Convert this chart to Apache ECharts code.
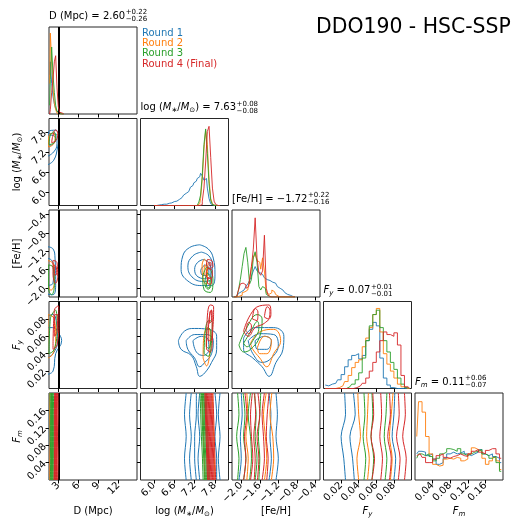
<!DOCTYPE html>
<html>
<head>
<meta charset="utf-8">
<script src="https://cdn.jsdelivr.net/npm/echarts@6/dist/echarts.min.js"></script>
<style>
  html, body { margin: 0; padding: 0; background: #fff; }
  #chart { width: 512px; height: 522px; }
</style>
</head>
<body>
<div id="chart"></div>
<script>
// rounds and colours
const ROUNDS = ['Round 1', 'Round 2', 'Round 3', 'Round 4 (Final)'];
const COLORS = ['#1f77b4', '#ff7f0e', '#2ca02c', '#d62728'];

// parameter axes: D, log M, [Fe/H], F_y, F_m
const RANGES = [[1.6, 14.8], [5.6, 8.2], [-2.2, -0.3], [0, 0.1], [0, 0.2]];
const TICKS = [[3, 6, 9, 12], [6.0, 6.6, 7.2, 7.8], [-2.0, -1.6, -1.2, -0.8, -0.4], [0.02, 0.04, 0.06, 0.08], [0.04, 0.08, 0.12, 0.16]];
const DECIMALS = [0, 1, 1, 2, 2];
const MEDIANS = ['2.60', '7.63', '\u22121.72', '0.07', '0.11'];
const ERR_UP = ['+0.22', '+0.08', '+0.22', '+0.01', '+0.06'];
const ERR_DN = ['\u22120.26', '\u22120.08', '\u22120.16', '\u22120.01', '\u22120.07'];
const D_TRUE = 3;

// 1D histograms (bin centres, then one row per round)
const D_BINS = [1.7, 1.9, 2.1, 2.3, 2.5, 2.7, 2.9, 3.1, 3.3, 3.5, 3.7, 3.9];
const D_HIST = [
  [0.45, 0.6, 0.35, 0.2, 0.12, 0.06, 0.03, 0.01, 0.01, 0, 0, 0],
  [0.35, 0.93, 0.6, 0.3, 0.12, 0.05, 0.01, 0, 0, 0, 0, 0],
  [0.1, 0.4, 0.77, 0.45, 0.25, 0.1, 0.03, 0.01, 0, 0, 0, 0],
  [0, 0.05, 0.25, 0.4, 0.6, 0.67, 0.3, 0.08, 0.02, 0.01, 0, 0]
];
const LOGM_BINS = [6.00, 6.05, 6.10, 6.15, 6.20, 6.25, 6.30, 6.35, 6.40, 6.45, 6.50, 6.55, 6.60, 6.65, 6.70, 6.75, 6.80, 6.85, 6.90, 6.95,
  7.00, 7.05, 7.10, 7.15, 7.20, 7.25, 7.30, 7.35, 7.40, 7.45, 7.50, 7.55, 7.60, 7.65, 7.70, 7.75, 7.80, 7.85, 7.90, 7.95];
const LOGM_HIST = [
  [0, 0, 0.005, 0.005, 0.01, 0.01, 0.015, 0.015, 0.02, 0.025, 0.03, 0.035, 0.045, 0.05, 0.06, 0.07, 0.09, 0.1, 0.12, 0.14,
   0.16, 0.18, 0.21, 0.23, 0.26, 0.28, 0.31, 0.33, 0.37, 0.34, 0.29, 0.31, 0.2, 0.08, 0.02, 0.005, 0, 0, 0, 0],
  [0, 0, 0, 0, 0, 0, 0, 0, 0, 0, 0, 0, 0, 0, 0, 0, 0, 0, 0, 0,
   0, 0, 0, 0, 0, 0, 0.005, 0.02, 0.08, 0.3, 0.65, 0.86, 0.7, 0.3, 0.08, 0.02, 0, 0, 0, 0],
  [0, 0, 0, 0, 0, 0, 0, 0, 0, 0, 0, 0, 0, 0, 0, 0, 0, 0, 0, 0,
   0, 0, 0, 0, 0, 0, 0.01, 0.04, 0.12, 0.35, 0.7, 0.88, 0.6, 0.25, 0.06, 0.01, 0, 0, 0, 0],
  [0, 0, 0, 0, 0, 0, 0, 0, 0, 0, 0, 0, 0, 0, 0, 0, 0, 0, 0, 0,
   0, 0, 0, 0, 0, 0, 0, 0, 0.01, 0.05, 0.2, 0.5, 0.85, 0.91, 0.55, 0.2, 0.05, 0.01, 0, 0]
];
const FEH_BINS = [-2.16, -2.12, -2.08, -2.04, -2.00, -1.96, -1.92, -1.88, -1.84, -1.80, -1.76, -1.72, -1.68, -1.64, -1.60, -1.56, -1.52,
  -1.48, -1.44, -1.40, -1.36, -1.32, -1.28, -1.24, -1.20, -1.16, -1.12, -1.08, -1.04, -1.00, -0.96, -0.92, -0.88, -0.84];
const FEH_HIST = [
  [0, 0.01, 0.02, 0.04, 0.06, 0.08, 0.1, 0.12, 0.15, 0.19, 0.24, 0.3, 0.35, 0.3, 0.28, 0.26, 0.24,
   0.22, 0.2, 0.19, 0.17, 0.17, 0.16, 0.14, 0.12, 0.1, 0.08, 0.06, 0.05, 0.03, 0.02, 0.01, 0.005, 0],
  [0, 0, 0, 0.01, 0.02, 0.05, 0.06, 0.08, 0.1, 0.2, 0.35, 0.45, 0.5, 0.42, 0.4, 0.32, 0.45,
   0.3, 0.05, 0.03, 0.05, 0.08, 0.06, 0.03, 0.01, 0, 0, 0, 0, 0, 0, 0, 0, 0],
  [0, 0, 0.02, 0.08, 0.2, 0.35, 0.5, 0.57, 0.4, 0.15, 0.2, 0.45, 0.52, 0.4, 0.12, 0.08, 0.12,
   0.1, 0.03, 0.01, 0, 0, 0, 0, 0, 0, 0, 0, 0, 0, 0, 0, 0, 0],
  [0, 0, 0.02, 0.08, 0.15, 0.16, 0.14, 0.1, 0.12, 0.2, 0.35, 0.55, 0.91, 0.45, 0.28, 0.25, 0.3,
   0.71, 0.1, 0.02, 0, 0, 0, 0, 0, 0, 0, 0, 0, 0, 0, 0, 0, 0]
];
const FY_BINS = [0.002, 0.006, 0.010, 0.014, 0.018, 0.022, 0.026, 0.030, 0.034, 0.038, 0.042, 0.046, 0.050,
  0.054, 0.058, 0.062, 0.066, 0.070, 0.074, 0.078, 0.082, 0.086, 0.090, 0.094, 0.098];
const FY_HIST = [
  [0.04, 0.03, 0.05, 0.06, 0.1, 0.16, 0.25, 0.33, 0.38, 0.4, 0.34, 0.38, 0.55, 0.68, 0.76, 0.72, 0.35, 0.12, 0.04, 0.01, 0, 0, 0, 0, 0],
  [0, 0, 0, 0, 0.01, 0.03, 0.08, 0.15, 0.24, 0.3, 0.33, 0.48, 0.58, 0.7, 0.85, 0.92, 0.65, 0.4, 0.28, 0.2, 0.12, 0.05, 0.02, 0, 0],
  [0, 0, 0, 0, 0, 0, 0, 0.02, 0.05, 0.1, 0.18, 0.35, 0.55, 0.72, 0.85, 0.9, 0.7, 0.55, 0.42, 0.3, 0.22, 0.12, 0.05, 0.01, 0],
  [0, 0, 0, 0, 0, 0, 0, 0, 0, 0.01, 0.03, 0.06, 0.12, 0.2, 0.3, 0.42, 0.55, 0.65, 0.62, 0.6, 0.64, 0.5, 0.15, 0.02, 0]
];
const FM_BINS = [0.004, 0.012, 0.020, 0.028, 0.036, 0.044, 0.052, 0.060, 0.068, 0.076, 0.084, 0.092, 0.100,
  0.108, 0.116, 0.124, 0.132, 0.140, 0.148, 0.156, 0.164, 0.172, 0.180, 0.188, 0.196];
const FM_HIST = [
  [0.3, 0.33, 0.32, 0.28, 0.3, 0.24, 0.18, 0.2, 0.25, 0.3, 0.32, 0.3, 0.31, 0.33, 0.3, 0.28, 0.3, 0.32, 0.35, 0.3, 0.28, 0.3, 0.27, 0.25, 0.2],
  [0.5, 0.9, 0.78, 0.5, 0.3, 0.18, 0.16, 0.17, 0.24, 0.25, 0.24, 0.26, 0.25, 0.22, 0.24, 0.3, 0.37, 0.35, 0.33, 0.25, 0.18, 0.22, 0.26, 0.22, 0.12],
  [0.25, 0.3, 0.28, 0.3, 0.27, 0.22, 0.25, 0.3, 0.32, 0.36, 0.35, 0.33, 0.36, 0.3, 0.28, 0.3, 0.32, 0.33, 0.35, 0.3, 0.28, 0.25, 0.27, 0.2, 0.1],
  [0.28, 0.3, 0.26, 0.2, 0.2, 0.24, 0.28, 0.3, 0.26, 0.25, 0.27, 0.28, 0.3, 0.28, 0.27, 0.3, 0.33, 0.35, 0.32, 0.3, 0.34, 0.36, 0.36, 0.3, 0.25]
];

// 2D contours: [round index, closed outline of [x, y] points]
const CONT_D_LOGM = [
  [0, [[1.2, 6.8], [2.3, 6.95], [2.9, 7.35], [3.1, 7.65], [2.6, 7.85], [1.5, 7.8]]],
  [0, [[1.2, 7.05], [2.3, 7.2], [2.8, 7.45], [2.8, 7.7], [1.8, 7.75], [1.2, 7.6]]],
  [0, [[1.3, 7.35], [2.3, 7.45], [2.6, 7.6], [2.0, 7.7], [1.3, 7.65]]],
  [1, [[1.5, 7.35], [2.2, 7.42], [2.5, 7.6], [2.3, 7.75], [1.6, 7.7]]],
  [2, [[1.6, 7.42], [2.4, 7.48], [2.6, 7.65], [2.3, 7.8], [1.8, 7.7]]],
  [3, [[2.0, 7.48], [2.7, 7.55], [2.9, 7.75], [2.6, 7.86], [2.2, 7.7]]]
];
const CONT_D_FEH = [
  [0, [[1.2, -1.1], [2.2, -1.15], [2.5, -1.35], [2.6, -1.9], [2.2, -2.15], [1.2, -2.1]]],
  [0, [[1.2, -1.35], [2.0, -1.4], [2.3, -1.6], [2.2, -1.9], [1.2, -1.95]]],
  [1, [[1.4, -1.4], [2.3, -1.5], [2.4, -1.9], [1.9, -2.05], [1.4, -1.9]]],
  [2, [[1.5, -1.5], [2.2, -1.55], [2.4, -1.95], [2.0, -2.15], [1.5, -2.0]]],
  [3, [[2.2, -1.4], [2.8, -1.45], [2.9, -1.75], [2.6, -1.9], [2.2, -1.7]]],
  [3, [[2.4, -1.5], [2.7, -1.55], [2.75, -1.7], [2.45, -1.72]]]
];
const CONT_D_FY = [
  [0, [[1.2, 0.016], [2.2, 0.02], [2.6, 0.04], [3.5, 0.055], [3.0, 0.065], [2.2, 0.085], [1.2, 0.08]]],
  [0, [[1.2, 0.035], [2.2, 0.04], [2.9, 0.055], [2.4, 0.07], [1.2, 0.07]]],
  [1, [[1.4, 0.035], [2.2, 0.04], [2.6, 0.06], [2.4, 0.08], [1.5, 0.085]]],
  [2, [[1.6, 0.04], [2.4, 0.045], [2.8, 0.07], [2.6, 0.09], [1.8, 0.08]]],
  [3, [[2.2, 0.045], [2.8, 0.05], [3.1, 0.08], [3.0, 0.095], [2.4, 0.09]]],
  [3, [[2.4, 0.06], [2.8, 0.065], [2.9, 0.085], [2.5, 0.085]]]
];
const CONT_LOGM_FEH = [
  [0, [[7.35, -1.06], [7.6, -1.15], [7.75, -1.35], [7.8, -1.7], [7.7, -1.95], [7.4, -1.95], [7.0, -1.85], [6.8, -1.6], [6.85, -1.3], [7.05, -1.12]]],
  [0, [[7.4, -1.22], [7.62, -1.3], [7.72, -1.5], [7.7, -1.8], [7.45, -1.86], [7.12, -1.76], [7.0, -1.52], [7.15, -1.3]]],
  [0, [[7.45, -1.38], [7.62, -1.45], [7.68, -1.65], [7.55, -1.8], [7.3, -1.76], [7.2, -1.6], [7.28, -1.45]]],
  [0, [[7.5, -1.5], [7.62, -1.56], [7.62, -1.72], [7.45, -1.73], [7.38, -1.62]]],
  [1, [[7.48, -1.37], [7.56, -1.45], [7.58, -1.72], [7.54, -1.92], [7.45, -1.82], [7.42, -1.5]]],
  [1, [[7.49, -1.5], [7.54, -1.55], [7.55, -1.75], [7.48, -1.7]]],
  [2, [[7.55, -1.55], [7.68, -1.62], [7.74, -1.88], [7.66, -2.1], [7.48, -2.04], [7.44, -1.78]]],
  [2, [[7.56, -1.68], [7.66, -1.74], [7.68, -1.94], [7.6, -2.03], [7.5, -1.9]]],
  [2, [[7.58, -1.82], [7.65, -1.86], [7.63, -2.0], [7.55, -1.96]]],
  [3, [[7.58, -1.38], [7.72, -1.42], [7.74, -1.54], [7.62, -1.57], [7.55, -1.48]]],
  [3, [[7.58, -1.58], [7.72, -1.62], [7.72, -1.76], [7.6, -1.8], [7.54, -1.68]]],
  [3, [[7.58, -1.78], [7.7, -1.8], [7.68, -1.92], [7.58, -1.9]]],
  [3, [[7.62, -1.44], [7.68, -1.46], [7.68, -1.52], [7.62, -1.51]]]
];
const CONT_LOGM_FY = [
  [0, [[6.72, 0.055], [6.9, 0.066], [7.2, 0.069], [7.6, 0.068], [7.85, 0.06], [7.85, 0.045], [7.7, 0.03], [7.5, 0.018], [7.35, 0.014], [7.25, 0.025], [7.1, 0.038], [6.8, 0.045]]],
  [0, [[6.95, 0.055], [7.2, 0.062], [7.55, 0.062], [7.75, 0.055], [7.7, 0.04], [7.5, 0.03], [7.35, 0.025], [7.2, 0.035], [7.0, 0.045]]],
  [0, [[7.15, 0.055], [7.4, 0.06], [7.6, 0.056], [7.62, 0.045], [7.45, 0.038], [7.25, 0.042]]],
  [1, [[7.45, 0.035], [7.55, 0.026], [7.64, 0.04], [7.66, 0.065], [7.58, 0.07], [7.46, 0.055]]],
  [2, [[7.48, 0.04], [7.6, 0.037], [7.7, 0.055], [7.72, 0.076], [7.62, 0.078], [7.5, 0.06]]],
  [2, [[7.54, 0.048], [7.62, 0.046], [7.68, 0.065], [7.6, 0.07], [7.55, 0.06]]],
  [3, [[7.55, 0.045], [7.66, 0.042], [7.74, 0.07], [7.76, 0.094], [7.66, 0.096], [7.56, 0.07]]],
  [3, [[7.6, 0.055], [7.68, 0.055], [7.72, 0.08], [7.7, 0.09], [7.62, 0.078]]],
  [3, [[7.64, 0.075], [7.7, 0.078], [7.7, 0.09], [7.65, 0.088]]]
];
const CONT_FEH_FY = [
  [0, [[-1.95, 0.058], [-1.7, 0.07], [-1.3, 0.07], [-1.08, 0.06], [-1.1, 0.045], [-1.25, 0.03], [-1.4, 0.014], [-1.55, 0.025], [-1.75, 0.035], [-1.95, 0.045]]],
  [0, [[-1.85, 0.055], [-1.6, 0.063], [-1.3, 0.062], [-1.2, 0.05], [-1.35, 0.035], [-1.55, 0.03], [-1.75, 0.04]]],
  [0, [[-1.7, 0.055], [-1.5, 0.06], [-1.35, 0.055], [-1.45, 0.045], [-1.65, 0.045]]],
  [1, [[-1.8, 0.052], [-1.6, 0.065], [-1.3, 0.068], [-1.15, 0.055], [-1.3, 0.04], [-1.45, 0.025], [-1.6, 0.035], [-1.75, 0.045]]],
  [1, [[-1.65, 0.047], [-1.5, 0.06], [-1.35, 0.055], [-1.45, 0.04], [-1.6, 0.04]]],
  [2, [[-2.05, 0.05], [-1.9, 0.068], [-1.65, 0.085], [-1.55, 0.08], [-1.6, 0.06], [-1.8, 0.045], [-1.95, 0.042]]],
  [2, [[-1.95, 0.052], [-1.8, 0.065], [-1.65, 0.077], [-1.62, 0.07], [-1.75, 0.055], [-1.88, 0.048]]],
  [3, [[-1.95, 0.066], [-1.8, 0.085], [-1.6, 0.095], [-1.4, 0.096], [-1.36, 0.085], [-1.5, 0.075], [-1.7, 0.07], [-1.85, 0.06]]],
  [3, [[-1.76, 0.08], [-1.7, 0.092], [-1.64, 0.088], [-1.66, 0.078]]],
  [3, [[-1.5, 0.082], [-1.44, 0.094], [-1.38, 0.09], [-1.42, 0.08]]],
  [3, [[-1.9, 0.066], [-1.84, 0.076], [-1.78, 0.072], [-1.84, 0.063]]]
];

// F_m panels: near-vertical contour lines, x value at each F_m level
const FM_LEVELS = [0, 0.05, 0.1, 0.15, 0.2];
const BANDS_D_FM = [
  [0, [1.65, 1.7, 1.65, 1.65, 1.7]],
  [1, [1.7, 1.72, 1.75, 1.7, 1.72]], [1, [1.9, 1.95, 1.9, 1.9, 1.95]],
  [2, [1.8, 1.85, 1.8, 1.8, 1.75]], [2, [1.9, 1.95, 1.9, 1.92, 1.88]], [2, [2.0, 2.05, 2.0, 2.0, 2.0]],
  [2, [2.1, 2.08, 2.12, 2.1, 2.06]], [2, [2.2, 2.15, 2.2, 2.15, 2.1]], [2, [2.35, 2.3, 2.3, 2.3, 2.25]],
  [3, [2.35, 2.4, 2.4, 2.4, 2.45]], [3, [2.42, 2.45, 2.48, 2.46, 2.5]], [3, [2.5, 2.5, 2.55, 2.55, 2.55]],
  [3, [2.58, 2.6, 2.62, 2.6, 2.63]], [3, [2.65, 2.65, 2.7, 2.7, 2.7]], [3, [2.72, 2.74, 2.76, 2.75, 2.78]],
  [3, [2.8, 2.8, 2.8, 2.8, 2.85]], [3, [2.9, 2.95, 2.9, 2.95, 2.95]]
];
const BANDS_LOGM_FM = [
  [0, [6.95, 6.9, 6.95, 6.9, 6.95]], [0, [7.1, 7.05, 7.1, 7.05, 7.1]], [0, [7.25, 7.2, 7.2, 7.25, 7.25]], [0, [7.35, 7.3, 7.35, 7.3, 7.35]],
  [0, [7.95, 7.9, 7.95, 7.9, 7.95]], [0, [7.85, 7.85, 7.8, 7.85, 7.8]],
  [1, [7.5, 7.48, 7.46, 7.44, 7.42]], [1, [7.8, 7.78, 7.76, 7.74, 7.72]],
  [2, [7.45, 7.43, 7.4, 7.38, 7.36]], [2, [7.49, 7.47, 7.44, 7.42, 7.4]], [2, [7.52, 7.5, 7.47, 7.45, 7.43]],
  [2, [7.55, 7.53, 7.5, 7.48, 7.46]], [2, [7.58, 7.56, 7.53, 7.5, 7.48]], [2, [7.61, 7.59, 7.56, 7.53, 7.51]], [2, [7.64, 7.62, 7.59, 7.56, 7.54]],
  [3, [7.58, 7.56, 7.54, 7.52, 7.5]], [3, [7.605, 7.585, 7.565, 7.545, 7.525]], [3, [7.63, 7.61, 7.59, 7.57, 7.55]],
  [3, [7.655, 7.635, 7.615, 7.595, 7.575]], [3, [7.68, 7.66, 7.64, 7.62, 7.6]], [3, [7.705, 7.685, 7.665, 7.645, 7.625]],
  [3, [7.73, 7.71, 7.69, 7.67, 7.65]], [3, [7.755, 7.735, 7.715, 7.695, 7.675]], [3, [7.78, 7.76, 7.74, 7.72, 7.7]],
  [3, [7.82, 7.8, 7.78, 7.76, 7.74]]
];
const BANDS_FEH_FM = [
  [0, [-2.05, -2.0, -2.02, -1.98, -2.0]], [0, [-1.25, -1.2, -1.25, -1.22, -1.25]], [0, [-1.4, -1.35, -1.38, -1.36, -1.4]],
  [1, [-1.88, -1.85, -1.9, -1.86, -1.88]], [1, [-1.5, -1.45, -1.48, -1.52, -1.46]], [1, [-1.35, -1.3, -1.32, -1.38, -1.34]],
  [2, [-2.08, -2.05, -2.1, -2.05, -2.08]], [2, [-1.95, -1.9, -1.95, -1.92, -1.96]], [2, [-1.82, -1.78, -1.8, -1.85, -1.8]],
  [2, [-1.7, -1.66, -1.7, -1.68, -1.72]], [2, [-1.62, -1.6, -1.63, -1.6, -1.58]],
  [3, [-1.95, -1.9, -1.93, -1.88, -1.92]], [3, [-1.8, -1.75, -1.78, -1.8, -1.76]], [3, [-1.72, -1.7, -1.73, -1.69, -1.71]],
  [3, [-1.65, -1.62, -1.66, -1.6, -1.64]], [3, [-1.55, -1.5, -1.52, -1.55, -1.5]], [3, [-1.45, -1.42, -1.46, -1.44, -1.4]]
];
const BANDS_FY_FM = [
  [0, [0.025, 0.023, 0.02, 0.025, 0.024]], [0, [0.035, 0.033, 0.03, 0.036, 0.034]], [0, [0.08, 0.082, 0.078, 0.08, 0.081]],
  [1, [0.04, 0.038, 0.042, 0.04, 0.039]], [1, [0.05, 0.052, 0.049, 0.05, 0.051]], [1, [0.076, 0.078, 0.075, 0.077, 0.079]],
  [2, [0.046, 0.048, 0.045, 0.047, 0.046]], [2, [0.055, 0.057, 0.054, 0.056, 0.055]], [2, [0.07, 0.072, 0.069, 0.071, 0.072]],
  [3, [0.055, 0.058, 0.054, 0.057, 0.056]], [3, [0.065, 0.067, 0.064, 0.066, 0.065]], [3, [0.075, 0.077, 0.073, 0.076, 0.075]],
  [3, [0.085, 0.087, 0.083, 0.086, 0.085]], [3, [0.092, 0.094, 0.09, 0.093, 0.092]]
];

// ---- layout ----
const X0 = 49, Y0 = 27, STEP = 91.5, W = 88, H = 87;
const FONT = 'DejaVu Sans';

const HISTS = [[D_BINS, D_HIST], [LOGM_BINS, LOGM_HIST], [FEH_BINS, FEH_HIST], [FY_BINS, FY_HIST], [FM_BINS, FM_HIST]];
const CONTOURS = {
  '1,0': CONT_D_LOGM, '2,0': CONT_D_FEH, '3,0': CONT_D_FY,
  '2,1': CONT_LOGM_FEH, '3,1': CONT_LOGM_FY, '3,2': CONT_FEH_FY
};
const BANDS = { '4,0': BANDS_D_FM, '4,1': BANDS_LOGM_FM, '4,2': BANDS_FEH_FM, '4,3': BANDS_FY_FM };

function fmtTick(v, d) {
  return (v < 0 ? '\u2212' : '') + Math.abs(v).toFixed(d);
}

function makeAxis(gi, p, showLabels) {
  return {
    gridIndex: gi, type: 'value', min: RANGES[p][0], max: RANGES[p][1],
    axisLine: { show: false, onZero: false },
    splitLine: { show: false },
    axisTick: { show: true, inside: false, length: 3.5, lineStyle: { color: '#000', width: 1 }, customValues: TICKS[p] },
    axisLabel: {
      show: showLabels, customValues: TICKS[p], rotate: 45, margin: 4,
      fontSize: 10, fontFamily: FONT, color: '#000',
      formatter: v => fmtTick(v, DECIMALS[p])
    }
  };
}

const grids = [], xAxes = [], yAxes = [], series = [];
let gi = 0;
for (let r = 0; r < 5; r++) {
  for (let c = 0; c <= r; c++) {
    grids.push({ left: X0 + c * STEP, top: Y0 + r * STEP, width: W, height: H, show: true, borderColor: '#262626', borderWidth: 1 });
    xAxes.push(makeAxis(gi, c, r === 4));
    if (r === c) {
      yAxes.push({ gridIndex: gi, type: 'value', min: 0, max: 1, show: false });
      const [bins, hist] = HISTS[c];
      hist.forEach((vals, k) => {
        series.push({
          type: 'line', xAxisIndex: gi, yAxisIndex: gi, step: 'middle', symbol: 'none', silent: true,
          data: bins.map((b, i) => [b, vals[i]]),
          lineStyle: { color: COLORS[k], width: 1, opacity: 0.9 }, z: 2 + k
        });
      });
    } else {
      yAxes.push(makeAxis(gi, r, c === 0));
      const key = r + ',' + c;
      (CONTOURS[key] || []).forEach(([k, pts]) => {
        series.push({
          type: 'line', xAxisIndex: gi, yAxisIndex: gi, symbol: 'none', smooth: 0.45, silent: true,
          data: pts.concat([pts[0]]),
          lineStyle: { color: COLORS[k], width: 1 }, z: 2 + k
        });
      });
      (BANDS[key] || []).forEach(([k, xs]) => {
        series.push({
          type: 'line', xAxisIndex: gi, yAxisIndex: gi, symbol: 'none', smooth: 0.3, silent: true,
          data: FM_LEVELS.map((y, i) => [xs[i], y]),
          lineStyle: { color: COLORS[k], width: 1 }, z: 2 + k
        });
      });
    }
    if (c === 0) {
      series.push({
        type: 'line', xAxisIndex: gi, yAxisIndex: gi, data: [], z: 10,
        markLine: {
          symbol: ['none', 'none'], silent: true, animation: false, label: { show: false },
          lineStyle: { color: '#000', width: 2, type: 'solid' }, data: [{ xAxis: D_TRUE }]
        }
      });
    }
    gi++;
  }
}

// ---- text with sub/superscripts ----
const mctx = document.createElement('canvas').getContext('2d');
function textW(t, size, italic) {
  mctx.font = (italic ? 'italic ' : '') + size + 'px "' + FONT + '"';
  return mctx.measureText(t).width;
}
function txt(t, x, y, size, italic, fill) {
  return {
    type: 'text', x: x, y: y, silent: true,
    style: { text: t, fontSize: size, fontFamily: FONT, fontStyle: italic ? 'italic' : 'normal', fill: fill || '#000', align: 'left', verticalAlign: 'middle' }
  };
}
const STY = { n: { size: 10, dy: 0 }, i: { size: 10, dy: 0, italic: true }, sub: { size: 7, dy: 3 }, isub: { size: 7, dy: 3, italic: true } };
function mathGroup(parts, x, y, anchor, rot) {
  let cx = 0;
  const els = [];
  parts.forEach(p => {
    if (p[1] === 'pm') {
      els.push(txt(p[0][0], cx + 0.5, -3.5, 7, false));
      els.push(txt(p[0][1], cx + 0.5, 3.5, 7, false));
      cx += Math.max(textW(p[0][0], 7), textW(p[0][1], 7)) + 1;
    } else {
      const s = STY[p[1]];
      els.push(txt(p[0], cx, s.dy, s.size, s.italic));
      cx += textW(p[0], s.size, s.italic);
    }
  });
  const off = anchor === 'center' ? -cx / 2 : 0;
  els.forEach(e => { e.x += off; });
  return { type: 'group', x: x, y: y, rotation: rot || 0, children: els };
}

const LABELS = [
  [['D (Mpc)', 'n']],
  [['log (', 'n'], ['M', 'i'], ['\u2217', 'sub'], ['/', 'n'], ['M', 'i'], ['\u2299', 'sub'], [')', 'n']],
  [['[Fe/H]', 'n']],
  [['F', 'i'], ['y', 'isub']],
  [['F', 'i'], ['m', 'isub']]
];

const graphics = [];
graphics.push(txt('DDO190 - HSC-SSP', 316, 28, 20.4, false));
ROUNDS.forEach((name, k) => graphics.push(txt(name, 142, 33 + k * 10.4, 10, false, COLORS[k])));
for (let p = 0; p < 5; p++) {
  const parts = LABELS[p].concat([[' = ' + MEDIANS[p], 'n'], [[ERR_UP[p], ERR_DN[p]], 'pm']]);
  graphics.push(mathGroup(parts, X0 + p * STEP, Y0 + p * STEP - 11, 'left'));
  graphics.push(mathGroup(LABELS[p], X0 + p * STEP + W / 2, 511, 'center'));
  if (p > 0) graphics.push(mathGroup(LABELS[p], 17, Y0 + p * STEP + H / 2, 'center', Math.PI / 2));
}

const chart = echarts.init(document.getElementById('chart'));
chart.setOption({
  animation: false,
  backgroundColor: '#fff',
  textStyle: { fontFamily: FONT },
  grid: grids,
  xAxis: xAxes,
  yAxis: yAxes,
  series: series,
  graphic: graphics
});
</script>
</body>
</html>
